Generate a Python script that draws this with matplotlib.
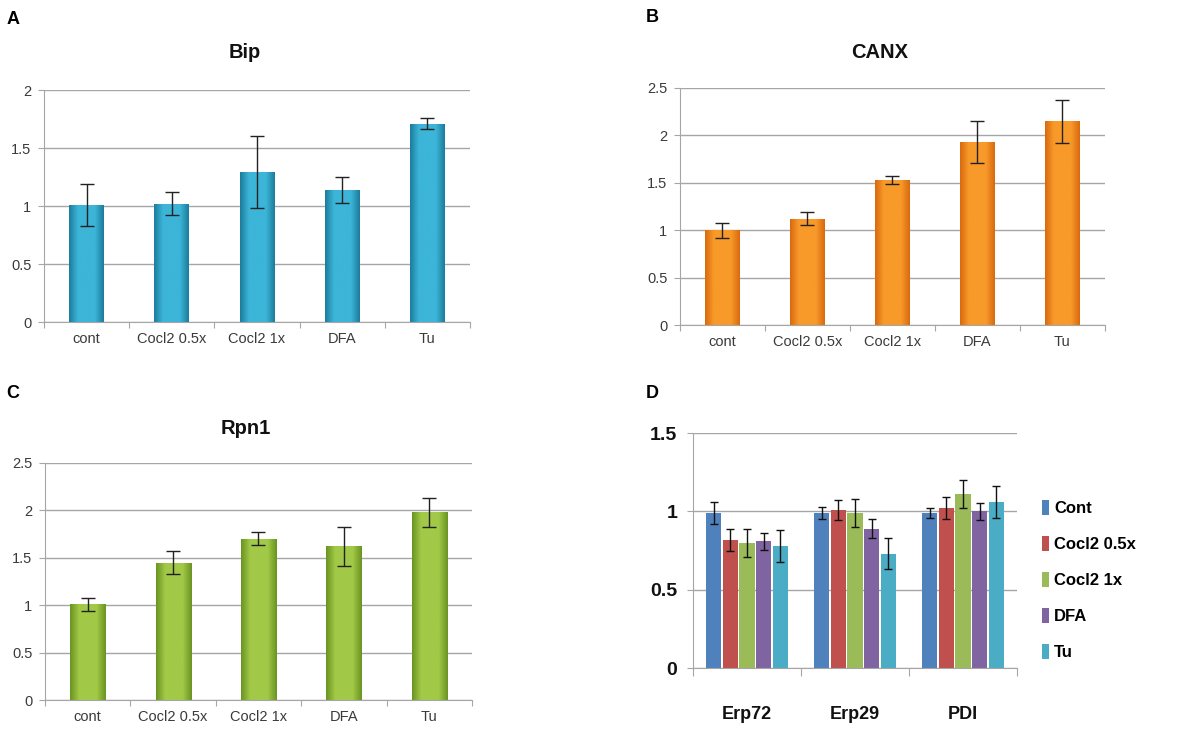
import numpy as np
import matplotlib.pyplot as plt
import matplotlib as mpl
from matplotlib.colors import LinearSegmentedColormap

mpl.rcParams['font.family'] = ['Liberation Sans', 'DejaVu Sans']

# data
groups = ['cont', 'Cocl2 0.5x', 'Cocl2 1x', 'DFA', 'Tu']

bip_mean = [1.01, 1.02, 1.29, 1.14, 1.71]
bip_err = [0.18, 0.10, 0.31, 0.11, 0.05]

canx_mean = [1.00, 1.12, 1.53, 1.93, 2.15]
canx_err = [0.08, 0.07, 0.045, 0.22, 0.225]

rpn1_mean = [1.01, 1.45, 1.70, 1.62, 1.98]
rpn1_err = [0.07, 0.12, 0.07, 0.21, 0.155]

genes = ['Erp72', 'Erp29', 'PDI']
d_labels = ['Cont', 'Cocl2 0.5x', 'Cocl2 1x', 'DFA', 'Tu']
d_mean = [[0.99, 0.99, 0.99],
          [0.82, 1.01, 1.02],
          [0.80, 0.99, 1.11],
          [0.81, 0.89, 1.00],
          [0.78, 0.73, 1.06]]
d_err = [[0.07, 0.04, 0.03],
         [0.07, 0.065, 0.07],
         [0.09, 0.09, 0.09],
         [0.055, 0.06, 0.055],
         [0.10, 0.10, 0.10]]
d_colors = ['#4f81bd', '#c0504d', '#9bbb59', '#8064a2', '#4bacc6']

grid_col = '#a6a6a6'


def gradient_bars(ax, bars, dark, light):
    cmap = LinearSegmentedColormap.from_list('g', [dark, light, light, light, dark])
    grad = np.linspace(0, 1, 64).reshape(1, -1)
    xl, yl = ax.get_xlim(), ax.get_ylim()
    for b in bars:
        x, y = b.get_x(), b.get_y()
        w, h = b.get_width(), b.get_height()
        im = ax.imshow(grad, cmap=cmap, extent=(x, x + w, y, y + h),
                       aspect='auto', zorder=2, interpolation='bicubic')
        im.set_clip_path(b)
        b.set_alpha(0)
    ax.set_xlim(xl)
    ax.set_ylim(yl)


def single_panel(rect, mean, err, ymax, dark, light, title, tx, ty):
    ax = fig.add_axes(rect)
    x = np.arange(len(groups))
    bars = ax.bar(x, mean, width=0.41, color=light, zorder=2)
    ax.set_xlim(-0.5, len(groups) - 0.5)
    ax.set_ylim(0, ymax)
    gradient_bars(ax, bars, dark, light)
    ax.errorbar(x, mean, yerr=err, fmt='none', ecolor='#222222',
                elinewidth=1.0, capsize=5, capthick=1.0, zorder=3)
    ticks = np.arange(0, ymax + 0.01, 0.5)
    ax.set_yticks(ticks)
    ax.set_yticklabels(['%g' % t for t in ticks])
    ax.set_xticks(np.arange(-0.5, len(groups)), minor=False)
    ax.set_xticklabels([])
    ax.set_xticks(x, minor=True)
    ax.set_xticklabels(groups, minor=True)
    ax.tick_params(axis='x', which='minor', length=0, pad=7,
                   labelsize=10.5, labelcolor='#3a3a3a')
    ax.tick_params(axis='x', which='major', length=4, direction='out',
                   color=grid_col)
    ax.tick_params(axis='y', length=4, color=grid_col, pad=5,
                   labelsize=10.5, labelcolor='#3a3a3a')
    ax.yaxis.grid(True, color=grid_col, linewidth=1.0)
    ax.set_axisbelow(True)
    for s in ['top', 'right']:
        ax.spines[s].set_visible(False)
    for s in ['left', 'bottom']:
        ax.spines[s].set_color(grid_col)
    fig.text(tx, ty, title, ha='center', va='center', fontsize=14.5,
             fontweight='bold', color='#111111')
    return ax


fig = plt.figure(figsize=(12.02, 7.32), dpi=100)

single_panel([0.0366, 0.5601, 0.3544, 0.3169], bip_mean, bip_err, 2.0,
             '#1c7c9c', '#3cb5d8', 'Bip', 245 / 1202, 1 - 53 / 732)
single_panel([0.5657, 0.556, 0.3536, 0.3238], canx_mean, canx_err, 2.5,
             '#d96a0e', '#f89a2a', 'CANX', 880 / 1202, 1 - 53 / 732)
single_panel([0.0374, 0.0437, 0.3552, 0.3238], rpn1_mean, rpn1_err, 2.5,
             '#6a9422', '#a2c947', 'Rpn1', 246 / 1202, 1 - 428 / 732)

# panel D: grouped bars
axd = fig.add_axes([0.5765, 0.0874, 0.2696, 0.321])
xg = np.arange(len(genes))
step = 0.154
for i, lab in enumerate(d_labels):
    pos = xg + (i - 2) * step
    axd.bar(pos, d_mean[i], width=0.142, color=d_colors[i], label=lab, zorder=2)
    axd.errorbar(pos, d_mean[i], yerr=d_err[i], fmt='none', ecolor='#111111',
                 elinewidth=1.0, capsize=3, capthick=1.0, zorder=3)
axd.set_xlim(-0.5, len(genes) - 0.5)
axd.set_ylim(0, 1.5)
axd.set_yticks([0, 0.5, 1, 1.5])
axd.set_yticklabels(['0', '0.5', '1', '1.5'], fontweight='bold')
axd.set_xticks(np.arange(-0.5, len(genes)), minor=False)
axd.set_xticklabels([])
axd.set_xticks(xg, minor=True)
axd.set_xticklabels(genes, minor=True, fontweight='bold')
axd.tick_params(axis='x', which='minor', length=0, pad=27, labelsize=13,
                labelcolor='#111111')
axd.tick_params(axis='x', which='major', length=6, color=grid_col)
axd.tick_params(axis='y', length=4.3, color=grid_col, pad=7, labelsize=14,
                labelcolor='#111111')
axd.yaxis.grid(True, color=grid_col, linewidth=1.0)
axd.set_axisbelow(True)
for s in ['top', 'right']:
    axd.spines[s].set_visible(False)
for s in ['left', 'bottom']:
    axd.spines[s].set_color(grid_col)
leg = axd.legend(loc='center left', bbox_to_anchor=(1035 / 1202, 1 - 580 / 732),
                 bbox_transform=fig.transFigure, frameon=False,
                 handlelength=0.45, handleheight=1.0, handletextpad=0.3,
                 labelspacing=1.2, borderaxespad=0,
                 prop={'weight': 'bold', 'size': 12})

# panel letters
for letter, lx, ly in [('A', 13, 20), ('B', 652, 18), ('C', 13, 393), ('D', 652, 393)]:
    fig.text(lx / 1202, 1 - ly / 732, letter, ha='center', va='center',
             fontsize=13, fontweight='bold')

fig.savefig('out.png', dpi=100)
